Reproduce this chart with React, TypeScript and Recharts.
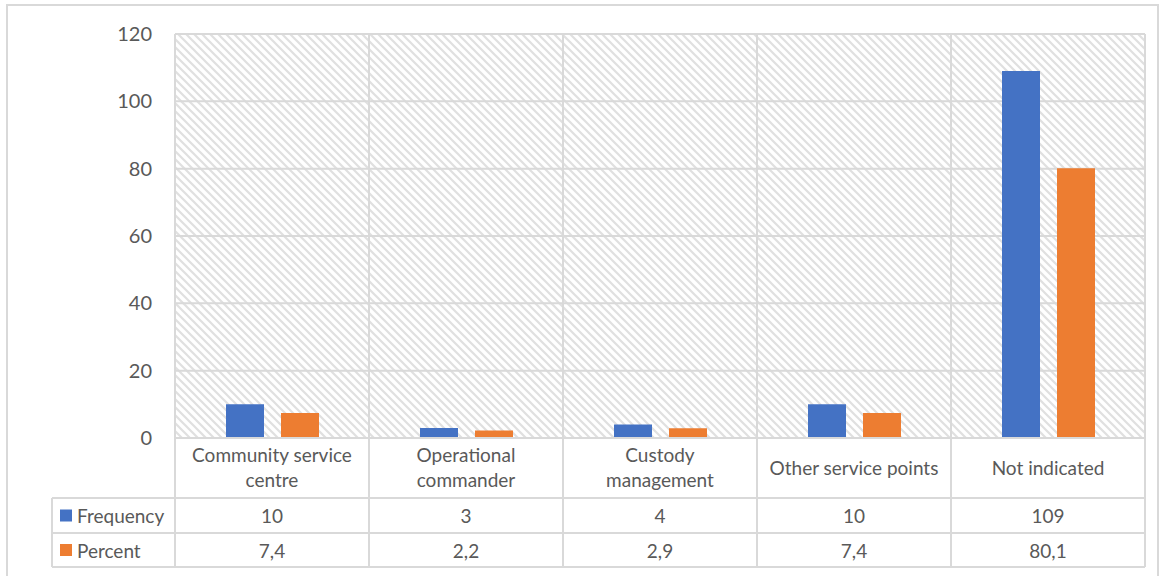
import React from "react";
import {
  BarChart,
  Bar,
  XAxis,
  YAxis,
  CartesianGrid,
  Customized,
} from "recharts";

const CATEGORIES = [
  "Community service centre",
  "Operational commander",
  "Custody management",
  "Other service points",
  "Not indicated",
];
const CATEGORY_LINES = [
  ["Community service", "centre"],
  ["Operational", "commander"],
  ["Custody", "management"],
  ["Other service points"],
  ["Not indicated"],
];
const FREQUENCY = [10, 3, 4, 10, 109];
const PERCENT = [7.4, 2.2, 2.9, 7.4, 80.1];
const Y_TICKS = [0, 20, 40, 60, 80, 100, 120];

const SERIES = [
  { key: "frequency", name: "Frequency", color: "#4472C4" },
  { key: "percent", name: "Percent", color: "#ED7D31" },
];

const data = CATEGORIES.map((name, i) => ({
  name,
  frequency: FREQUENCY[i],
  percent: PERCENT[i],
}));

// layout
const W = 1163;
const H = 576;
const PLOT_LEFT = 175;
const PLOT_RIGHT = 1145;
const PLOT_TOP = 34;
const PLOT_BOTTOM = 438;
const ROW_TOP = 498;
const ROW_MID = 533;
const ROW_BOTTOM = 567;
const TABLE_LEFT = 52;
const BAND = (PLOT_RIGHT - PLOT_LEFT) / CATEGORIES.length;

const LINE = "#d9d9d9";
const TEXT = "#595959";
const FONT = "Lato, 'Open Sans', sans-serif";

const fmtPercent = (v: number) => v.toFixed(1).replace(".", ",");

// one column of the data table under each category: label, values and cell borders
function TableColumn(props: any) {
  const { x, payload } = props;
  const i = payload.index;
  const half = payload.offset || BAND / 2;
  const left = x - half;
  const right = x + half;
  const lines = CATEGORY_LINES[i];
  const lineH = 25;
  const labelMid = (PLOT_BOTTOM + ROW_TOP) / 2 - 1;
  const first = labelMid - ((lines.length - 1) * lineH) / 2;
  return (
    <g>
      <line x1={left} x2={left} y1={PLOT_TOP} y2={ROW_BOTTOM} stroke={LINE} strokeWidth={2} />
      {i === CATEGORIES.length - 1 && (
        <line x1={right} x2={right} y1={PLOT_TOP} y2={ROW_BOTTOM} stroke={LINE} strokeWidth={2} />
      )}
      {[ROW_TOP, ROW_MID, ROW_BOTTOM].map((ry) => (
        <line key={ry} x1={left} x2={right} y1={ry} y2={ry} stroke={LINE} strokeWidth={2} />
      ))}
      <g fontFamily={FONT} fontSize={19} fill={TEXT} textAnchor="middle">
        {lines.map((t, k) => (
          <text key={k} x={x} y={first + k * lineH} dominantBaseline="central">
            {t}
          </text>
        ))}
        <text x={x} y={(ROW_TOP + ROW_MID) / 2} dominantBaseline="central">
          {FREQUENCY[i]}
        </text>
        <text x={x} y={(ROW_MID + ROW_BOTTOM) / 2} dominantBaseline="central">
          {fmtPercent(PERCENT[i])}
        </text>
      </g>
    </g>
  );
}

function LegendColumn() {
  const rows = [
    { top: ROW_TOP, bottom: ROW_MID, s: SERIES[0] },
    { top: ROW_MID, bottom: ROW_BOTTOM, s: SERIES[1] },
  ];
  return (
    <g>
      <line x1={TABLE_LEFT} x2={TABLE_LEFT} y1={ROW_TOP} y2={ROW_BOTTOM} stroke={LINE} strokeWidth={2} />
      {[ROW_TOP, ROW_MID, ROW_BOTTOM].map((ry) => (
        <line key={ry} x1={TABLE_LEFT} x2={PLOT_LEFT} y1={ry} y2={ry} stroke={LINE} strokeWidth={2} />
      ))}
      {rows.map(({ top, bottom, s }) => {
        const mid = (top + bottom) / 2;
        return (
          <g key={s.key}>
            <rect x={60} y={mid - 6} width={12} height={12} fill={s.color} />
            <text x={77} y={mid} dominantBaseline="central" fontFamily={FONT} fontSize={19} fill={TEXT}>
              {s.name}
            </text>
          </g>
        );
      })}
    </g>
  );
}

export default function App() {
  return (
    <div style={{ position: "absolute", left: 0, top: 0, width: W, height: H, background: "#fff", overflow: "hidden" }}>
      <div
        style={{
          position: "absolute",
          left: 6,
          top: 4,
          width: W - 10,
          height: H + 10,
          border: `2px solid ${LINE}`,
          boxSizing: "border-box",
        }}
      />
      <BarChart
        width={W}
        height={H}
        data={data}
        margin={{ top: PLOT_TOP, right: W - PLOT_RIGHT, bottom: 0, left: 0 }}
        barSize={38}
        barGap={17}
        style={{ position: "absolute", left: 0, top: 0 }}
      >
        <defs>
          <pattern id="hatch" width={8} height={8} patternUnits="userSpaceOnUse">
            <rect width={8} height={8} fill="#ffffff" />
            <path d="M-2,-2 L10,10 M-2,6 L2,10 M6,-2 L10,2" stroke="#e0e0e0" strokeWidth={2.2} />
          </pattern>
        </defs>
        <CartesianGrid vertical={false} stroke={LINE} strokeWidth={2} fill="url(#hatch)" fillOpacity={1} />
        <XAxis
          dataKey="name"
          height={H - PLOT_BOTTOM}
          axisLine={{ stroke: LINE, strokeWidth: 2 }}
          tickLine={false}
          tickSize={0}
          tickMargin={0}
          interval={0}
          tick={<TableColumn />}
        />
        <YAxis
          width={PLOT_LEFT}
          domain={[0, 120]}
          ticks={Y_TICKS}
          axisLine={false}
          tickLine={false}
          tickSize={0}
          tickMargin={23}
          tick={{ fill: TEXT, fontSize: 20, fontFamily: FONT }}
        />
        {SERIES.map((s) => (
          <Bar key={s.key} dataKey={s.key} name={s.name} fill={s.color} isAnimationActive={false} />
        ))}
        <Customized component={LegendColumn} />
      </BarChart>
    </div>
  );
}
